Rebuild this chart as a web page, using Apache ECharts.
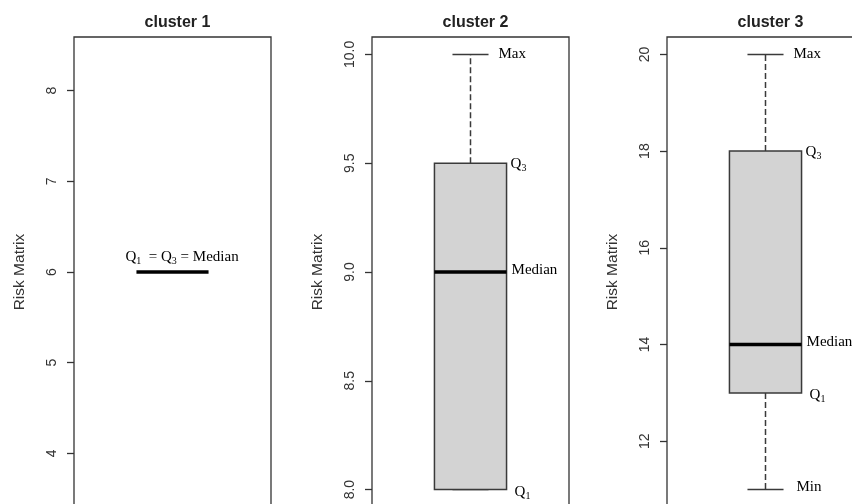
<!DOCTYPE html>
<html>
<head>
<meta charset="utf-8">
<script src="https://cdn.jsdelivr.net/npm/echarts@6/dist/echarts.min.js"></script>
<style>
  html, body { margin: 0; padding: 0; background: #fff; }
  #chart { width: 852px; height: 504px; }
</style>
</head>
<body>
<div id="chart"></div>
<script>
// box stats per cluster: [min, Q1, median, Q3, max]
var clusters = ['cluster 1', 'cluster 2', 'cluster 3'];
var boxStats = [
  [6, 6, 6, 6, 6],
  [8, 8, 9, 9.5, 10],
  [11, 13, 14, 18, 20]
];
var yTicks = [
  [4, 5, 6, 7, 8],
  [8, 8.5, 9, 9.5, 10],
  [12, 14, 16, 18, 20]
];
var tickDigits = [0, 1, 0];
// which annotations each panel carries
var notes = [
  ['equal'],
  ['max', 'q3', 'median', 'q1'],
  ['max', 'q3', 'median', 'q1', 'min']
];

var noteText = {
  max: 'Max',
  min: 'Min',
  median: 'Median',
  q1: '{q|Q}{s|1}',
  q3: '{q|Q}{s|3}',
  equal: '{q|Q}{s|1}{q|  = Q}{s|3}{q| = Median}'
};

var chartDom = document.getElementById('chart');
var chart = echarts.init(chartDom, null, { renderer: 'canvas' });

var panelLeft = [74, 372, 667];
var panelWidth = 197;
var panelTop = 37;
var panelHeight = 470;

// R style limits: data range padded by 4%
function yLimits(s) {
  var lo = s[0], hi = s[4];
  if (hi === lo) { lo = lo * 0.6; hi = hi * 1.4; }
  var pad = (hi - lo) * 0.04;
  return [lo - pad, hi + pad];
}

var sans = '"Liberation Sans", Arial, sans-serif';
var serif = '"Liberation Serif", "Times New Roman", serif';
var rich = {
  q: { fontFamily: serif, fontSize: 15, color: '#111' },
  s: { fontFamily: serif, fontSize: 10, color: '#111', padding: [9, 0, 0, 0] }
};

function renderBox(params, api) {
  var i = params.seriesIndex;
  var s = boxStats[i];
  var cx = api.coord([0, s[2]])[0];
  var band = api.size([1, 0])[0];
  var hw = band * 0.183;
  var sw = hw / 2;
  var y = s.map(function (v) { return api.coord([0, v])[1]; });
  var ink = '#3a3a3a';
  var kids = [];

  if (y[0] !== y[1]) {
    kids.push({ type: 'line', shape: { x1: cx, y1: y[1], x2: cx, y2: y[0] },
      style: { stroke: ink, lineWidth: 1.5, lineDash: [6, 3] } });
  }
  if (y[4] !== y[3]) {
    kids.push({ type: 'line', shape: { x1: cx, y1: y[3], x2: cx, y2: y[4] },
      style: { stroke: ink, lineWidth: 1.5, lineDash: [6, 3] } });
  }
  kids.push({ type: 'line', shape: { x1: cx - sw, y1: y[0], x2: cx + sw, y2: y[0] },
    style: { stroke: ink, lineWidth: 1.5 } });
  kids.push({ type: 'line', shape: { x1: cx - sw, y1: y[4], x2: cx + sw, y2: y[4] },
    style: { stroke: ink, lineWidth: 1.5 } });
  if (y[1] !== y[3]) {
    kids.push({ type: 'rect', shape: { x: cx - hw, y: y[3], width: hw * 2, height: y[1] - y[3] },
      style: { fill: '#d3d3d3', stroke: ink, lineWidth: 1.5 } });
  }
  kids.push({ type: 'line', shape: { x1: cx - hw, y1: y[2], x2: cx + hw, y2: y[2] },
    style: { stroke: '#000', lineWidth: 3.5 } });

  notes[i].forEach(function (k) {
    var x, ty;
    if (k === 'max') { x = cx + sw + 10; ty = y[4]; }
    else if (k === 'min') { x = cx + sw + 13; ty = y[0] - 3; }
    else if (k === 'q3') { x = cx + hw + 4; ty = y[3] + 1; }
    else if (k === 'q1') { x = cx + hw + 8; ty = y[1] + 2; }
    else if (k === 'median') { x = cx + hw + 5; ty = y[2] - 2; }
    else { x = cx - 47; ty = y[2] - 15; }
    kids.push({ type: 'text', style: {
      text: (k === 'max' || k === 'min' || k === 'median') ? '{q|' + noteText[k] + '}' : noteText[k],
      rich: rich, x: x, y: ty, verticalAlign: 'middle', align: 'left'
    } });
  });

  return { type: 'group', children: kids };
}

var grids = [], xAxes = [], yAxes = [], series = [], titles = [];
clusters.forEach(function (name, i) {
  var lim = yLimits(boxStats[i]);
  grids.push({ left: panelLeft[i], top: panelTop, width: panelWidth, height: panelHeight,
    outerBoundsMode: 'none', containLabel: false,
    show: true, borderColor: '#333', borderWidth: 1.3, backgroundColor: 'transparent' });
  xAxes.push({ gridIndex: i, type: 'category', data: [name], show: false });
  yAxes.push({
    gridIndex: i, type: 'value', min: lim[0], max: lim[1],
    name: 'Risk Matrix', nameLocation: 'middle', nameGap: 46,
    nameTextStyle: { fontFamily: sans, fontSize: 15.5, color: '#333' },
    axisLine: { show: false },
    splitLine: { show: false },
    axisTick: { show: true, interval: 0, length: 7, customValues: yTicks[i],
      lineStyle: { color: '#333', width: 1.3 } },
    axisLabel: {
      customValues: yTicks[i], rotate: 90, margin: 15,
      fontFamily: sans, fontSize: 14, color: '#333',
      formatter: (function (d) { return function (v) { return Number(v).toFixed(d); }; })(tickDigits[i])
    }
  });
  series.push({
    type: 'custom', xAxisIndex: i, yAxisIndex: i, clip: false,
    data: [[0].concat(boxStats[i])],
    encode: { x: 0, y: [1, 2, 3, 4, 5] },
    renderItem: renderBox, silent: true
  });
  titles.push({ text: name, left: panelLeft[i] + panelWidth / 2, top: 10, textAlign: 'center',
    textStyle: { fontFamily: sans, fontSize: 16, fontWeight: 'bold', color: '#222' } });
});

var option = {
  animation: false,
  backgroundColor: '#fff',
  title: titles,
  grid: grids,
  xAxis: xAxes,
  yAxis: yAxes,
  series: series
};

chart.setOption(option);
</script>
</body>
</html>
